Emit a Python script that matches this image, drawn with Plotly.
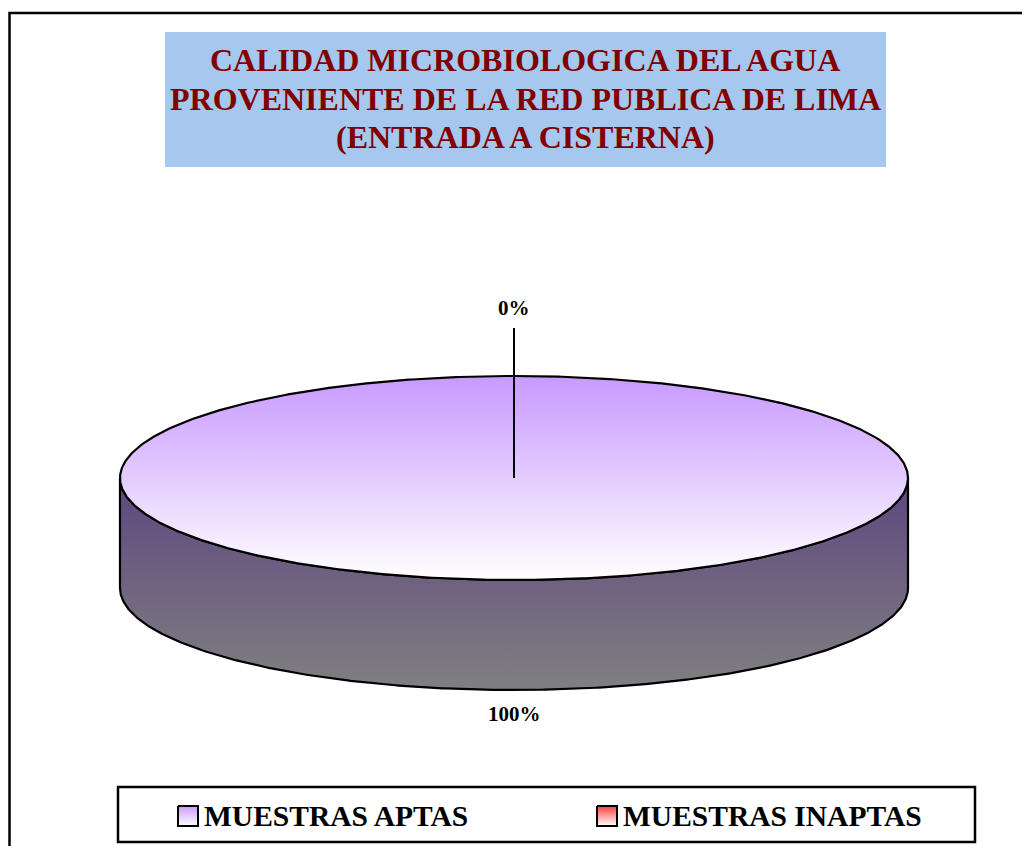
import numpy as np
import plotly.graph_objects as go

# ---- data ----
categories = ["MUESTRAS APTAS", "MUESTRAS INAPTAS"]
values = [100, 0]
title_lines = ["CALIDAD MICROBIOLOGICA DEL AGUA",
               "PROVENIENTE DE LA RED PUBLICA DE LIMA",
               "(ENTRADA A CISTERNA)"]

# ---- styling / geometry (layout, not data) ----
W, H = 1030, 846
OFF = 8                    # compensate page body margin
CX, CY = 514, 478          # centre of top ellipse (pixels)
RX, RY = 394, 102          # ellipse radii
DEPTH = 110                # thickness of the 3D pie
START = 90.0               # first slice starts at 12 o'clock, clockwise
top_colors = [("#C899FF", "#FFFFFF"), ("#FF4040", "#FFFFFF")]
side_colors = [("#5E4680", "#808080"), ("#8B2020", "#808080")]
FONT = "Liberation Serif, Times New Roman, serif"

total = float(sum(values))
fig = go.Figure()

def ell(theta_deg, dy=0.0):
    t = np.radians(theta_deg)
    return CX + RX * np.cos(t), CY - RY * np.sin(t) + dy

angle = START
slices = []
for i, v in enumerate(values):
    sweep = 360.0 * v / total
    a0, a1 = angle, angle - sweep
    slices.append((a0, a1))
    angle = a1

# sides first (front-visible part only)
for i, (a0, a1) in enumerate(slices):
    if a0 == a1:
        continue
    th = np.linspace(a0, a1, 721)
    vis = np.sin(np.radians(th)) <= 1e-9
    if not vis.any():
        continue
    thv = th[vis]
    xt, yt = ell(thv)
    xb, yb = ell(thv[::-1], DEPTH)
    xs = np.concatenate([xt, xb, xt[:1]])
    ys = np.concatenate([yt, yb, yt[:1]])
    fig.add_trace(go.Scatter(
        x=xs, y=ys, mode="lines", fill="toself",
        line=dict(color="black", width=2.2),
        fillgradient=dict(type="vertical",
                          colorscale=[[0, side_colors[i][0]], [1, side_colors[i][1]]],
                          start=CY, stop=CY + RY + DEPTH),
        hoverinfo="skip", showlegend=False))

# tops
for i, (a0, a1) in enumerate(slices):
    if a0 == a1:
        continue
    th = np.linspace(a0, a1, 721)
    xt, yt = ell(th)
    if abs(a0 - a1) >= 359.999:
        xs, ys = xt, yt
    else:
        xs = np.concatenate([[CX], xt, [CX]])
        ys = np.concatenate([[CY], yt, [CY]])
    fig.add_trace(go.Scatter(
        x=xs, y=ys, mode="lines", fill="toself",
        line=dict(color="black", width=2.2),
        fillgradient=dict(type="vertical",
                          colorscale=[[0, top_colors[i][0]], [1, top_colors[i][1]]],
                          start=CY - RY, stop=CY + RY),
        hoverinfo="skip", showlegend=False))

# data labels
annotations = []
for i, (a0, a1) in enumerate(slices):
    mid = (a0 + a1) / 2.0
    pct = f"{round(values[i] / total * 100)}%"
    s = np.sin(np.radians(mid))
    if values[i] == 0:
        ly = CY - (RY + 48) * s
        fig.add_trace(go.Scatter(x=[CX, CX], y=[CY, ly],
                                 mode="lines", line=dict(color="black", width=2),
                                 hoverinfo="skip", showlegend=False))
        tx, ty = CX, ly - 20
    else:
        ex, ey = ell(mid, DEPTH if s < 0 else 0)
        tx, ty = ex, ey + (24 if s < 0 else -24)
    annotations.append(dict(x=tx, y=ty, xref="x", yref="y", text=f"<b>{pct}</b>",
                            showarrow=False, font=dict(family=FONT, size=21, color="black")))

# title (one annotation per line for exact spacing)
for k, line in enumerate(title_lines):
    annotations.append(dict(x=525, y=60 + 38.5 * k, xref="x", yref="y",
                            text=f"<b>{line}</b>", showarrow=False,
                            font=dict(family=FONT, size=32, color="#800000")))

# legend (manual, Excel style)
leg_items_x = [178, 597]
for i, name in enumerate(categories):
    x0 = leg_items_x[i]
    fig.add_trace(go.Scatter(
        x=[x0, x0 + 20, x0 + 20, x0, x0], y=[806, 806, 826, 826, 806],
        mode="lines", fill="toself", line=dict(color="black", width=2),
        fillgradient=dict(type="vertical",
                          colorscale=[[0, top_colors[i][0]], [1, top_colors[i][1]]],
                          start=806, stop=826),
        hoverinfo="skip", showlegend=False))
    annotations.append(dict(x=x0 + 24, y=816, xref="x", yref="y", xanchor="left",
                            text=f"<b>{name}</b>", showarrow=False,
                            font=dict(family=FONT, size=29.5, color="black")))

shapes = [
    # title background
    dict(type="rect", xref="x", yref="y", x0=165, x1=886, y0=32, y1=167,
         fillcolor="#A6C8EE", line=dict(width=0), layer="below"),
    # chart frame
    dict(type="rect", xref="x", yref="y", x0=9.5, x1=1060, y0=13, y1=880,
         fillcolor="rgba(0,0,0,0)", line=dict(color="black", width=2.5), layer="below"),
    # legend box
    dict(type="rect", xref="x", yref="y", x0=118, x1=975, y0=787, y1=842,
         fillcolor="rgba(0,0,0,0)", line=dict(color="black", width=2.5), layer="below"),
]

fig.update_layout(
    width=W, height=H, margin=dict(l=0, r=0, t=0, b=0),
    paper_bgcolor="white", plot_bgcolor="white",
    xaxis=dict(range=[OFF, W + OFF], visible=False, fixedrange=True),
    yaxis=dict(range=[H + OFF, OFF], visible=False, fixedrange=True),
    annotations=annotations, shapes=shapes, showlegend=False,
)

fig.write_html("out.html")
